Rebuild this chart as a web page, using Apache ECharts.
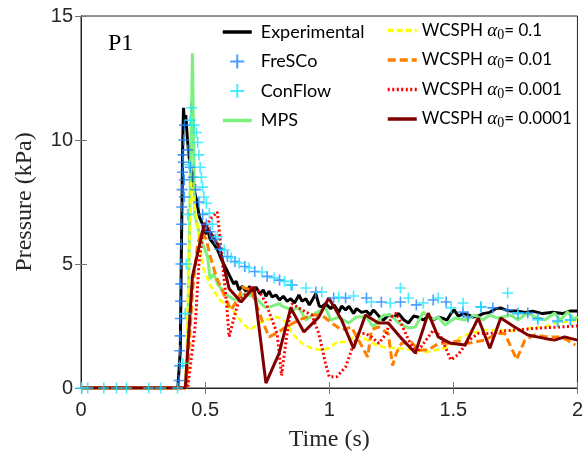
<!DOCTYPE html>
<html><head><meta charset="utf-8">
<script src="https://cdn.jsdelivr.net/npm/echarts@6/dist/echarts.min.js"></script>
<style>html,body{margin:0;padding:0;background:#fff}#c{width:586px;height:459px}</style>
</head><body><div id="c"></div>
<script>
var xTicks = [0, 0.5, 1, 1.5, 2];
var yTicks = [0, 5, 10, 15];
var seriesNames = ['Experimental','FreSCo','ConFlow','MPS','WCSPH 0.1','WCSPH 0.01','WCSPH 0.001','WCSPH 0.0001'];

var experimental = [[0,0],[0.1,0],[0.2,0],[0.3,0],[0.39,0],[0.40,1.5],[0.405,6],[0.41,10],[0.413,11.3],[0.418,10.5],[0.422,11.0],[0.429,10.0],[0.437,9.2],[0.445,8.7],[0.455,8.0],[0.465,7.6],[0.477,6.9],[0.49,6.6],[0.50,6.2],[0.51,6.4],[0.52,6.0],[0.535,5.8],[0.549,5.6],[0.565,5.2],[0.585,4.8],[0.60,4.5],[0.615,4.2],[0.625,4.3],[0.637,3.95],[0.65,4.1],[0.665,3.9],[0.68,4.1],[0.69,3.85],[0.705,4.07],[0.72,3.8],[0.735,3.95],[0.745,3.7],[0.758,3.9],[0.77,3.67],[0.785,3.75],[0.80,3.55],[0.815,3.7],[0.83,3.5],[0.845,3.6],[0.86,3.43],[0.878,3.75],[0.89,3.5],[0.906,3.6],[0.92,3.35],[0.946,3.8],[0.96,3.3],[0.97,3.27],[0.985,3.4],[1.006,3.2],[1.02,3.35],[1.038,3.05],[1.05,3.3],[1.066,3.15],[1.08,3.3],[1.098,3.0],[1.11,3.2],[1.13,3.05],[1.15,3.1],[1.165,2.95],[1.178,3.15],[1.20,2.9],[1.218,2.74],[1.24,2.95],[1.259,2.86],[1.28,3.0],[1.30,2.75],[1.319,2.62],[1.34,2.9],[1.36,2.85],[1.379,2.74],[1.40,2.9],[1.419,2.74],[1.44,2.86],[1.46,2.8],[1.475,2.74],[1.49,3.0],[1.503,3.15],[1.52,2.9],[1.54,3.0],[1.56,2.95],[1.58,2.86],[1.60,2.9],[1.62,3.0],[1.647,3.05],[1.67,3.2],[1.69,3.23],[1.71,3.15],[1.73,3.1],[1.76,3.1],[1.79,3.05],[1.82,3.1],[1.86,3.0],[1.90,3.05],[1.94,3.0],[1.97,3.1],[2.0,3.1]];

var fresco = [[0.395,0.3],[0.397,0.9],[0.398,1.5],[0.399,2.1],[0.400,2.8],[0.401,3.5],[0.402,4.2],[0.403,5.0],[0.404,5.8],[0.405,6.6],[0.406,7.3],[0.407,8.0],[0.409,8.7],[0.411,9.4],[0.414,10.0],[0.417,10.6],[0.412,9.1],[0.416,8.4],[0.416,7.7],[0.43,9.6],[0.44,8.9],[0.452,8.5],[0.462,8.0],[0.475,7.5],[0.49,7.0],[0.505,6.6],[0.52,6.3],[0.54,6.0],[0.56,5.6],[0.59,5.3],[0.62,5.1],[0.66,4.9],[0.70,4.7],[0.75,4.5],[0.80,4.35],[0.85,4.15],[0.946,3.87],[1.018,3.63],[1.066,3.63],[1.15,3.63],[1.21,3.47],[1.287,3.47],[1.351,3.35],[1.419,3.55],[1.471,3.47],[1.539,3.06],[1.559,2.86],[1.611,3.27],[1.659,3.23],[1.719,3.15],[1.76,3.0],[1.80,3.02],[1.84,2.8],[1.92,2.7],[1.972,2.74]];

var conflow = [[0.003,0],[0.027,0],[0.092,0],[0.143,0],[0.183,0],[0.273,0],[0.321,0],[0.389,0],[0.41,1.0],[0.42,3.0],[0.425,5.0],[0.43,7.0],[0.435,9.0],[0.44,10.8],[0.445,11.3],[0.455,10.6],[0.465,10.3],[0.47,9.9],[0.475,9.4],[0.48,8.9],[0.485,8.5],[0.49,8.1],[0.495,7.7],[0.505,7.45],[0.517,7.05],[0.529,6.6],[0.549,6.1],[0.577,5.56],[0.605,5.24],[0.637,5.04],[0.677,4.84],[0.729,4.68],[0.778,4.44],[0.82,4.3],[0.845,4.15],[0.906,4.03],[0.97,3.87],[1.038,3.67],[1.098,3.71],[1.17,3.47],[1.246,3.43],[1.287,4.03],[1.319,3.63],[1.379,3.43],[1.439,3.63],[1.491,3.23],[1.539,3.43],[1.611,3.27],[1.719,3.83],[1.76,3.02],[1.84,2.74],[1.92,2.66],[1.97,2.74]];

var mps = [[0,0],[0.42,0],[0.428,1],[0.449,13.5],[0.458,7],[0.47,6.5],[0.49,5.8],[0.51,5.3],[0.52,4.4],[0.535,4.6],[0.55,4.2],[0.58,3.8],[0.62,3.55],[0.66,3.8],[0.70,3.67],[0.74,3.27],[0.76,3.27],[0.80,3.4],[0.81,3.3],[0.85,3.15],[0.878,3.23],[0.906,2.74],[0.946,3.02],[0.986,3.23],[1.006,2.74],[1.038,2.86],[1.078,2.62],[1.11,2.86],[1.15,2.86],[1.178,2.46],[1.218,2.94],[1.25,2.94],[1.279,2.62],[1.319,2.42],[1.347,2.46],[1.379,3.06],[1.411,2.74],[1.439,2.86],[1.467,2.54],[1.507,2.82],[1.547,2.74],[1.587,2.94],[1.619,2.74],[1.647,2.94],[1.679,2.82],[1.731,2.94],[1.76,2.74],[1.8,3.02],[1.828,2.86],[1.868,2.74],[1.908,3.02],[1.932,2.74],[1.96,3.06],[1.988,2.74],[2.0,2.9]];

var wc01 = [[0,0],[0.42,0],[0.445,8.3],[0.455,7.5],[0.47,6.5],[0.49,4.9],[0.52,4.15],[0.56,3.55],[0.61,3.15],[0.65,2.62],[0.68,2.34],[0.72,2.62],[0.745,2.74],[0.785,2.86],[0.8,2.82],[0.83,2.62],[0.85,2.2],[0.89,1.8],[0.93,1.6],[0.97,1.53],[1.0,1.6],[1.03,1.85],[1.07,1.85],[1.11,2.14],[1.15,1.95],[1.19,1.73],[1.22,1.65],[1.28,1.6],[1.33,1.55],[1.39,1.45],[1.44,1.55],[1.48,1.65],[1.53,2.06],[1.57,2.2],[1.63,2.34],[1.68,2.34],[1.73,2.3],[1.77,2.34],[1.81,2.42],[1.87,2.46],[1.91,2.62],[1.95,2.66],[2.0,2.74]];

var wc001 = [[0,0],[0.425,0],[0.45,4],[0.47,5.8],[0.485,6.3],[0.505,6.0],[0.517,5.44],[0.545,4.48],[0.585,3.55],[0.605,3.15],[0.637,3.67],[0.649,4.07],[0.685,3.95],[0.729,2.74],[0.758,2.06],[0.786,2.2],[0.826,2.46],[0.878,2.74],[0.93,2.94],[0.97,2.94],[1.01,2.62],[1.05,2.34],[1.09,2.46],[1.118,1.93],[1.155,1.25],[1.17,2.34],[1.198,2.46],[1.238,2.2],[1.255,0.9],[1.27,1.4],[1.291,1.8],[1.331,1.85],[1.359,1.53],[1.399,1.53],[1.44,1.8],[1.48,1.8],[1.52,1.9],[1.559,1.8],[1.627,1.93],[1.679,2.2],[1.707,2.2],[1.755,1.15],[1.788,1.93],[1.828,2.14],[1.88,2.06],[1.932,2.06],[1.96,1.93],[1.992,1.73]];

var wc0001 = [[0,0],[0.43,0],[0.46,2.5],[0.475,5],[0.49,6.2],[0.52,6.8],[0.549,7.1],[0.565,5.56],[0.585,3.55],[0.597,2.06],[0.617,2.86],[0.637,3.55],[0.665,3.8],[0.689,4.07],[0.717,3.9],[0.745,3.43],[0.77,2.74],[0.79,2.2],[0.808,0.5],[0.83,2.2],[0.85,3.4],[0.89,3.15],[0.93,2.94],[0.958,2.2],[0.985,1.0],[1.0,0.45],[1.03,0.45],[1.066,0.85],[1.09,1.53],[1.118,2.2],[1.146,2.2],[1.17,2.06],[1.2,1.8],[1.23,2.2],[1.25,2.86],[1.27,3.02],[1.29,2.6],[1.32,1.93],[1.35,1.4],[1.38,1.8],[1.42,2.34],[1.45,2.06],[1.49,1.13],[1.52,1.35],[1.56,1.9],[1.6,2.2],[1.65,2.2],[1.7,2.3],[1.78,2.36],[1.85,2.42],[1.93,2.46],[2.0,2.5]];

var wc00001 = [[0,0],[0.42,0],[0.449,4.5],[0.497,6.65],[0.557,5.7],[0.597,4.0],[0.645,3.47],[0.697,4.07],[0.745,0.2],[0.798,1.4],[0.845,3.23],[0.898,2.26],[0.958,2.86],[0.998,3.63],[1.05,2.74],[1.098,1.6],[1.146,2.94],[1.198,2.62],[1.238,2.62],[1.291,2.0],[1.347,1.41],[1.399,3.02],[1.439,2.06],[1.49,1.8],[1.547,1.73],[1.6,2.82],[1.647,1.6],[1.691,2.82],[1.747,2.46],[1.8,2.14],[1.868,2.0],[1.908,1.93],[1.948,2.06],[2.0,1.93]];

var plus = 'path://M5,0 L5,10 M0,5 L10,5';
var axisCol = '#262626';
var tickFont = {fontFamily:'Liberation Sans', fontSize:20, color:'#262626'};
var serif = 'Liberation Serif';

function line(name, data, color, width, type, z) {
  return {name:name, type:'line', data:data, symbol:'none', z:z,
    lineStyle:{color:color, width:width, type:type}, itemStyle:{color:color}, animation:false};
}
function scat(name, data, color) {
  return {name:name, type:'scatter', data:data, symbol:plus, symbolSize:11,
    itemStyle:{color:'rgba(0,0,0,0)', borderColor:color, borderWidth:1.6}, animation:false, z:3};
}
var wcRich = {a:{fontFamily:serif, fontStyle:'italic', fontSize:19, color:'#000'},
  s:{fontFamily:serif, fontSize:14, color:'#000', verticalAlign:'bottom', padding:[9,0,0,0]},
  t:{fontFamily:'Lato', fontSize:17, color:'#000'}};
function wcFmt(n){ var v = n.split(' ')[1]; return '{t|WCSPH }{a|α}{s|0}{t|= ' + v + '}'; }
function legItem(n, isLine){ return isLine ? {name:n, itemStyle:{opacity:0}, lineStyle:{width:3.5}} : {name:n}; }

var chart = echarts.init(document.getElementById('c'), null, {renderer:'canvas'});
chart.setOption({
  animation:false,
  grid:{left:81, right:6, top:16, bottom:71, show:true, borderColor:axisCol, borderWidth:1},
  title:{text:'P1', left:103, top:27, textStyle:{fontFamily:serif, fontSize:24, fontWeight:'normal', color:'#000'}},
  legend:[
    {data:[legItem(seriesNames[0],true), legItem(seriesNames[1],false), legItem(seriesNames[2],false), legItem(seriesNames[3],true)],
      orient:'vertical', left:216, top:18, itemWidth:29, itemHeight:14, itemGap:11.5,
      textStyle:{fontFamily:'Lato', fontSize:18, color:'#000', padding:[0,0,0,4]}},
    {data:seriesNames.slice(4).map(function(n){return legItem(n,true);}), orient:'vertical', left:381, top:16, itemWidth:29, itemHeight:14, itemGap:8.5,
      formatter:wcFmt, textStyle:{fontFamily:'Lato', fontSize:17, color:'#000', rich:wcRich}}
  ],
  xAxis:[
    {type:'value', min:0, max:2, interval:0.5, name:'Time (s)', nameLocation:'middle', nameGap:40,
     nameTextStyle:{fontFamily:serif, fontSize:24, color:'#262626'},
     axisLine:{lineStyle:{color:axisCol}}, axisTick:{inside:true, length:6, lineStyle:{color:'#777'}},
     axisLabel:Object.assign({margin:12, formatter:function(v){return String(v);}}, tickFont), splitLine:{show:false}},
    {type:'value', min:0, max:2, interval:0.5, position:'top', axisLine:{lineStyle:{color:axisCol}},
     axisTick:{inside:true, length:6, lineStyle:{color:'#777'}}, axisLabel:{show:false}, splitLine:{show:false}}
  ],
  yAxis:[
    {type:'value', min:0, max:15, interval:5, name:'Pressure (kPa)', nameLocation:'middle', nameGap:44,
     nameTextStyle:{fontFamily:serif, fontSize:24, color:'#262626'},
     axisLine:{show:true, lineStyle:{color:axisCol}}, axisTick:{show:true, inside:true, length:6, lineStyle:{color:'#777'}},
     axisLabel:Object.assign({margin:8}, tickFont), splitLine:{show:false}},
    {type:'value', min:0, max:15, interval:5, position:'right', axisLine:{show:true, lineStyle:{color:axisCol}},
     axisTick:{show:true, inside:true, length:6, lineStyle:{color:'#777'}}, axisLabel:{show:false}, splitLine:{show:false}}
  ],
  series:[
    line(seriesNames[0], experimental, '#000000', 3, 'solid', 2),
    scat(seriesNames[1], fresco, '#1e84ff'),
    scat(seriesNames[2], conflow, '#1ee6ff'),
    line(seriesNames[3], mps, '#7ef07e', 3, 'solid', 2),
    line(seriesNames[4], wc01, '#ffff00', 2.5, [6,3], 2),
    line(seriesNames[5], wc001, '#ff8000', 3, [8,4], 2),
    line(seriesNames[6], wc0001, '#ff0000', 3, [2,2.5], 2),
    line(seriesNames[7], wc00001, '#800000', 3, 'solid', 2)
  ]
});
</script></body></html>
